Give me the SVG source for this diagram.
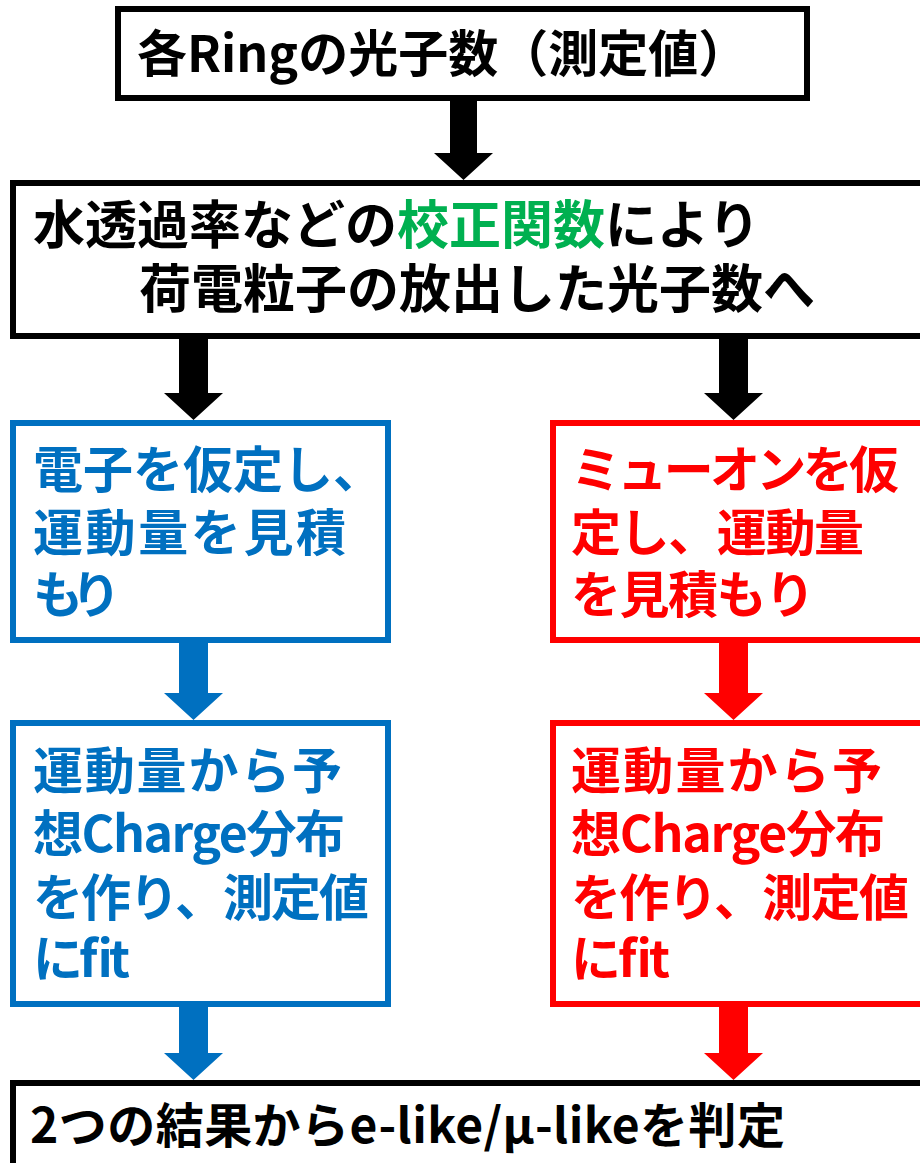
<svg xmlns="http://www.w3.org/2000/svg" width="920" height="1163" viewBox="0 0 920 1163">
<style>
.t{font-family:"Noto Sans CJK JP","Noto Sans",sans-serif;font-weight:bold;font-size:50px;}
.bx{fill:#fff;stroke-width:6;}
.k{stroke:#000;}
.b{stroke:#0070C0;}
.r{stroke:#FF0000;}
.fb{fill:#0070C0;}
.fr{fill:#FF0000;}
.fk{fill:#000;}
</style>
<rect width="920" height="1163" fill="#fff"/>
<g id="connectors">
<polygon points="450,100 477,100 477,153 493,153 463.5,180 434,153 450,153" fill="#000"/>
<polygon points="179,338 208,338 208,393 223,393 193.5,420 164,393 179,393" fill="#000"/>
<polygon points="719,338 748,338 748,393 763,393 733.5,420 704,393 719,393" fill="#000"/>
<polygon points="179,642 208,642 208,693 223,693 193.5,720 164,693 179,693" fill="#0070C0"/>
<polygon points="719,642 748,642 748,693 763,693 733.5,720 704,693 719,693" fill="#FF0000"/>
<polygon points="179,1006 208,1006 208,1053 223,1053 193.5,1080 164,1053 179,1053" fill="#0070C0"/>
<polygon points="719,1006 748,1006 748,1053 763,1053 733.5,1080 704,1053 719,1053" fill="#FF0000"/>
</g>
<g id="n1">
<rect class="bx k" x="118" y="9" width="689" height="89"/>
<text class="t fk" x="137" y="72">各Ringの光子数（測定値）</text>
</g>
<g id="n2">
<rect class="bx k" x="13" y="183" width="920" height="153"/>
<text class="t fk" x="33" y="244" style="font-size:52px">水透過率などの<tspan fill="#00B050">校正関数</tspan>により</text>
<text class="t fk" x="139" y="308" style="font-size:52px">荷電粒子の放出した光子数へ</text>
</g>
<g id="n3">
<rect class="bx b" x="13" y="423" width="375" height="217"/>
<text class="t fb" x="33" y="488" textLength="350" lengthAdjust="spacing">電子を仮定し、</text>
<text class="t fb" x="33" y="551" textLength="313" lengthAdjust="spacing">運動量を見積</text>
<text class="t fb" x="33" y="613" textLength="88" lengthAdjust="spacing">もり</text>
</g>
<g id="n4">
<rect class="bx r" x="553" y="423" width="380" height="217"/>
<text class="t fr" x="571" y="488" textLength="328" lengthAdjust="spacing">ミューオンを仮</text>
<text class="t fr" x="571" y="551" textLength="293" lengthAdjust="spacing">定し、運動量</text>
<text class="t fr" x="571" y="613" textLength="244" lengthAdjust="spacing">を見積もり</text>
</g>
<g id="n5">
<rect class="bx b" x="13" y="723" width="375" height="281"/>
<text class="t fb" x="33" y="789" textLength="309" lengthAdjust="spacing">運動量から予</text>
<text class="t fb" x="33" y="852" textLength="312" lengthAdjust="spacing">想Charge分布</text>
<text class="t fb" x="33" y="916" textLength="336" lengthAdjust="spacing">を作り、測定値</text>
<text class="t fb" x="33" y="977" textLength="97" lengthAdjust="spacing">にfit</text>
</g>
<g id="n6">
<rect class="bx r" x="553" y="723" width="380" height="281"/>
<text class="t fr" x="571" y="789" textLength="311" lengthAdjust="spacing">運動量から予</text>
<text class="t fr" x="571" y="852" textLength="314" lengthAdjust="spacing">想Charge分布</text>
<text class="t fr" x="571" y="916" textLength="338" lengthAdjust="spacing">を作り、測定値</text>
<text class="t fr" x="571" y="977" textLength="99" lengthAdjust="spacing">にfit</text>
</g>
<g id="n7">
<rect class="bx k" x="13" y="1083" width="920" height="100"/>
<text class="t fk" x="30" y="1143" style="font-size:48px" textLength="755" lengthAdjust="spacing">2つの結果からe-like/μ-likeを判定</text>
</g>
</svg>
